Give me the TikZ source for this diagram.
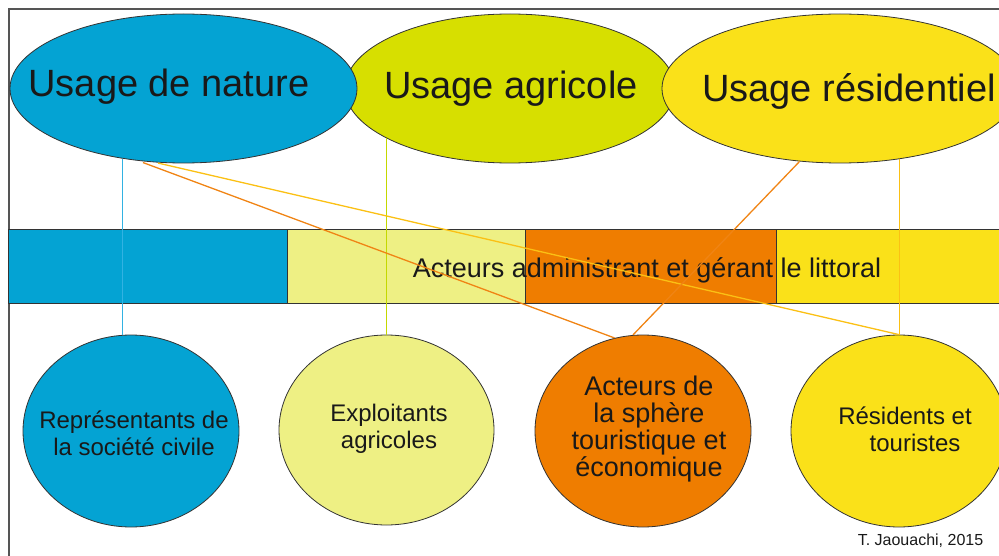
\documentclass[tikz,border=0pt]{standalone}
\usepackage{fontspec}
\setmainfont{Liberation Sans}
\usetikzlibrary{shapes.geometric}
\definecolor{nature}{RGB}{4,163,211}
\definecolor{agricole}{RGB}{215,223,0}
\definecolor{residence}{RGB}{250,225,25}
\definecolor{agriclair}{RGB}{238,240,132}
\definecolor{tourisme}{RGB}{239,125,0}
\definecolor{lignebleu}{RGB}{50,178,226}
\definecolor{lignevert}{RGB}{196,216,0}
\definecolor{ligneorange}{RGB}{240,132,20}
\definecolor{lignejaune}{RGB}{251,192,20}
\definecolor{rahmen}{RGB}{85,85,85}

\begin{document}
\begin{tikzpicture}[x=1pt, y=-1pt,
	usage/.style={ellipse, draw=black!80, line width=0.8pt, inner sep=0pt, minimum height=149pt},
	acteur/.style={ellipse, draw=black!80, line width=0.8pt, inner sep=0pt, minimum width=216pt, minimum height=192pt},
	usagetext/.style={anchor=base, text=black!90, font=\fontsize{38}{40}\selectfont},
	kreistext/.style={align=center, text=black!90, font=\fontsize{24}{27}\selectfont},
	balken/.style={draw=black!80, line width=0.8pt},
	verbindung/.style={line width=1.3pt},
]

\useasboundingbox (0,0) rectangle (999,556);
\clip (0,0) rectangle (999,556);

% Rahmen
\draw[rahmen, line width=2pt] (8.5,570) |- (1010,9);

% Balken
\draw[balken, fill=nature] (8.5,229.5) rectangle (287,303);
\draw[balken, fill=agriclair] (287,229.5) rectangle (525,303);
\draw[balken, fill=tourisme] (525,229.5) rectangle (776,303);
\draw[balken, fill=residence] (776,229.5) rectangle (1010,303);
\node[anchor=base, text=black!90, font=\fontsize{27}{30}\selectfont] (littoral) at (647,277) {Acteurs administrant et gérant le littoral};

% Usages
\node[usage, fill=agricole, minimum width=330pt] (agri) at (510,88.5) {};
\node[usage, fill=nature, minimum width=347pt] (nat) at (183.5,88.5) {};
\node[usage, fill=residence, minimum width=356pt] (res) at (840,88.5) {};
\node[usagetext] (natT) at (169,97) {Usage de nature};
\node[usagetext] (agriT) at (511,99) {Usage agricole};
\node[usagetext] (resT) at (849,102) {Usage résidentiel};

% Acteurs
\node[acteur, fill=nature] (civile) at (131,431) {};
\node[acteur, fill=agriclair, minimum width=215pt, minimum height=190pt] (exploit) at (386.5,430) {};
\node[acteur, fill=tourisme] (tour) at (643,431) {};
\node[acteur, fill=residence] (habitants) at (899,431) {};
\node[kreistext] (civileT) at (134,433) {Représentants de\\la société civile};
\node[kreistext] (exploitT) at (389,429) {Exploitants\\agricoles};
\node[kreistext, font=\fontsize{27}{27.3}\selectfont] (tourT) at (649,429) {Acteurs de\\la sphère\\touristique et\\économique};
\node[kreistext] (habitantsT) at (905,429) {Résidents et\\\hspace*{20pt}touristes};

\node[text=black!90, font=\fontsize{16}{18}\selectfont] (quelle) at (920.5,541) {T. Jaouachi, 2015};

% Verbindungen
\draw[verbindung, lignebleu] (nat.-131) -- (nat.-131 |- civile.north);
\draw[verbindung, lignevert] (agri.-158.4) -- (agri.-158.4 |- exploit.north);
\draw[verbindung, lignejaune] (res.-50.5) -- (res.-50.5 |- habitants.north);
\draw[verbindung, ligneorange, shorten <=5pt] (nat.-122) -- (tour.107);
\draw[verbindung, lignejaune, shorten <=3pt] (nat.-111) -- (habitants.north);
\draw[verbindung, ligneorange] (res.-119) -- (tour.96.5);

\end{tikzpicture}
\end{document}
